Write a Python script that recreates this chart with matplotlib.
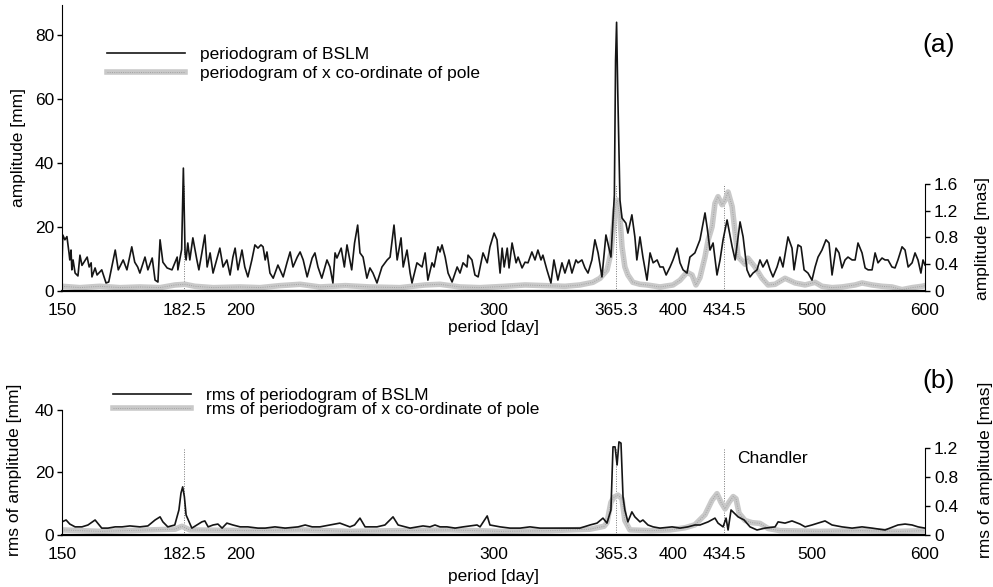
import matplotlib.pyplot as plt
from matplotlib.ticker import NullLocator
from matplotlib.legend_handler import HandlerTuple

plt.rcParams['font.family'] = ['Liberation Sans', 'DejaVu Sans']
plt.rcParams['font.size'] = 12.5

# panel (a): periodogram of BSLM [mm]
bslm_period = [
    150.0, 150.2, 150.7, 151.2, 151.7, 151.9, 152.2, 152.4, 152.7, 153.2,
    153.9, 154.4, 154.9, 156.2, 156.7, 157.2, 157.4, 158.2, 158.7, 159.9,
    161.0, 161.7, 163.4, 164.2, 165.5, 166.5, 167.8, 168.6, 169.4, 170.0,
    171.4, 172.2, 173.4, 174.2, 175.0, 175.6, 176.4, 177.6, 179.0, 180.5,
    180.7, 181.8, 182.3, 182.8, 183.1, 183.6, 184.2, 185.1, 186.3, 186.9,
    187.8, 188.7, 189.4, 190.3, 191.2, 193.3, 194.3, 195.5, 196.5, 197.4,
    198.1, 199.0, 200.3, 201.2, 202.2, 203.5, 204.5, 205.5, 206.5, 207.2,
    207.9, 208.5, 209.5, 210.6, 212.2, 214.0, 215.3, 216.4, 217.4, 218.9,
    219.9, 221.0, 222.4, 224.2, 225.2, 226.3, 227.7, 229.6, 230.7, 231.8,
    232.6, 233.3, 234.9, 236.1, 237.1, 238.9, 240.0, 241.2, 242.1, 243.3,
    244.8, 246.0, 247.2, 248.8, 250.8, 252.9, 254.1, 255.7, 257.0, 258.6,
    259.5, 261.1, 262.4, 263.2, 265.3, 267.5, 268.8, 270.0, 271.8, 272.7,
    274.4, 275.3, 276.2, 277.6, 278.9, 280.7, 283.0, 284.3, 285.7, 287.5,
    288.0, 289.8, 291.2, 292.7, 295.0, 297.0, 298.3, 300.3, 301.7, 303.2,
    304.2, 305.2, 306.7, 307.6, 309.1, 311.1, 312.1, 314.1, 315.6, 317.1,
    319.1, 320.7, 322.2, 323.8, 324.8, 326.9, 329.0, 330.6, 332.7, 334.9,
    336.5, 338.7, 340.3, 342.5, 343.6, 345.8, 347.5, 349.2, 351.4, 353.1,
    354.9, 357.1, 359.4, 360.5, 362.3, 364.3, 365.0, 365.6, 366.3, 367.6,
    368.8, 371.1, 372.3, 374.7, 376.5, 377.7, 379.6, 381.4, 383.9, 385.8,
    387.7, 390.2, 392.0, 394.0, 395.9, 398.4, 400.3, 403.0, 404.8, 406.8,
    409.4, 411.3, 414.6, 418.0, 421.4, 422.8, 424.8, 426.9, 429.6, 431.7,
    433.8, 436.6, 440.2, 442.3, 445.8, 448.0, 450.8, 453.0, 455.2, 458.1,
    460.3, 462.5, 465.5, 467.8, 470.0, 473.1, 475.3, 477.6, 481.5, 484.6,
    486.2, 489.3, 491.7, 494.1, 497.2, 500.4, 502.9, 505.3, 508.5, 511.8,
    514.3, 516.8, 520.1, 522.6, 525.1, 527.7, 530.2, 533.7, 536.3, 538.8,
    542.3, 545.0, 547.6, 551.1, 553.8, 556.4, 560.0, 562.7, 565.4, 569.0,
    571.8, 574.5, 578.3, 581.1, 584.0, 587.7, 590.5, 593.3, 596.1, 598.1,
    600.0,
]
bslm_amp = [
    7.5, 17.5, 16, 17, 12, 9.7, 12.8, 6.6, 9.7, 5.6,
    4.7, 11.2, 8, 10.6, 7.5, 8.8, 4.4, 7.2, 5, 6.6,
    2.5, 2.8, 12.8, 6.6, 9.7, 6.6, 13.8, 9, 7.5, 5.6,
    10.6, 6.6, 10.3, 3.4, 2.8, 16, 9, 7.2, 6.6, 10.6,
    6.6, 13, 38.4, 11.9, 9.7, 15, 9.7, 16.6, 9.7, 6.6,
    11.9, 17.5, 7.5, 11.9, 5.6, 13.4, 7.5, 9.7, 5, 10.6,
    13.4, 6.6, 12.8, 7.5, 4.4, 9.7, 14.4, 13.4, 14.4, 13.8,
    9.7, 12.2, 5.6, 4, 8.1, 4.4, 8.8, 12.2, 7.5, 10.6,
    12.2, 9.7, 4.4, 10.3, 11.9, 7.5, 4, 9.7, 7.5, 2.5,
    11.9, 10.3, 13.4, 7.5, 14.4, 6.6, 15, 20.6, 11.9, 10.6,
    4, 7.2, 5.6, 2.5, 7.5, 9.7, 10.6, 20.6, 9.7, 16.6,
    7.5, 12.8, 5.6, 2.5, 8.8, 7.5, 11.9, 3.4, 8.8, 7.5,
    13.8, 12.2, 14.4, 10.6, 5.6, 2.8, 7.5, 5.6, 8.8, 7.5,
    11.2, 9.7, 5, 4.4, 11.9, 8.8, 13.8, 18.1, 16, 5.6,
    13.4, 7.5, 13.4, 7.2, 15, 8.8, 10.6, 7.2, 9, 8.8,
    12.2, 9.7, 12.8, 9.7, 11.2, 6.6, 2.5, 9.7, 3.4, 8.8,
    5.6, 9.7, 5.6, 9.7, 8.8, 9.7, 7.2, 5.6, 9.7, 16,
    11.9, 4.4, 17.5, 15, 10.6, 30, 72, 84, 62, 28.4,
    22.8, 21.2, 18.1, 23.8, 16.9, 9.7, 16.9, 10.6, 3.4, 11.9,
    8.8, 9.7, 7.5, 7.5, 5, 7.5, 9.7, 13.4, 8.8, 6.6,
    5.6, 10.6, 11.9, 16, 24.4, 20, 12.8, 15, 5, 9.7,
    16, 22.2, 13.8, 9.7, 21.6, 16.9, 6.6, 4.4, 5.6, 6.6,
    9.7, 7.5, 9.7, 6.6, 4.4, 7.5, 10.6, 7.5, 16.9, 13.4,
    6.6, 14.4, 13.8, 6.6, 5.6, 3.4, 7.5, 10.6, 12.8, 16,
    15, 5, 13.4, 11.9, 7.2, 9.7, 10.6, 9.7, 9.7, 15,
    11.9, 7.2, 6.6, 6.6, 11.9, 8.8, 10.3, 9.7, 9.7, 7.5,
    7.2, 9.7, 13.8, 12.8, 7.5, 8.8, 11.9, 9.7, 5.6, 9.7,
    8.1,
]

# panel (a): periodogram of x co-ordinate of pole [mas]
pole_period = [
    150.0, 154.4, 159.4, 164.7, 170.0, 175.6, 179.9, 182.8, 185.7, 191.2,
    199.7, 206.2, 212.9, 219.9, 227.0, 236.5, 246.0, 258.2, 268.8, 275.3,
    284.3, 293.6, 305.7, 315.6, 326.0, 336.5, 344.7, 352.0, 356.0, 360.0,
    362.3, 363.5, 364.7, 365.9, 367.6, 368.8, 370.5, 372.3, 375.3, 379.6,
    383.9, 392.0, 400.3, 404.8, 409.4, 412.7, 415.3, 418.0, 421.4, 423.5,
    426.2, 428.2, 430.3, 433.1, 435.2, 437.3, 440.2, 442.3, 444.4, 447.2,
    449.4, 451.5, 456.6, 461.8, 466.3, 471.6, 479.2, 487.0, 494.9, 502.9,
    508.5, 516.8, 525.1, 536.3, 542.3, 551.1, 560.0, 569.0, 578.3, 587.7,
    597.2, 600.0,
]
pole_amp = [
    0.07, 0.05, 0.07, 0.05, 0.06, 0.05, 0.09, 0.10, 0.07, 0.05,
    0.06, 0.05, 0.08, 0.10, 0.06, 0.08, 0.06, 0.05, 0.09, 0.10,
    0.06, 0.05, 0.07, 0.09, 0.08, 0.07, 0.09, 0.13, 0.19, 0.31,
    0.57, 0.90, 1.21, 1.36, 1.10, 0.66, 0.36, 0.24, 0.13, 0.10,
    0.09, 0.06, 0.09, 0.16, 0.28, 0.24, 0.09, 0.20, 0.51, 0.76,
    0.96, 1.31, 1.41, 1.29, 1.36, 1.48, 1.26, 0.87, 0.51, 0.45,
    0.40, 0.49, 0.36, 0.19, 0.09, 0.10, 0.19, 0.12, 0.09, 0.13,
    0.07, 0.05, 0.06, 0.09, 0.12, 0.09, 0.07, 0.06, 0.02, 0.05,
    0.07, 0.08,
]

# panel (b): rms of periodogram of BSLM [mm]
rms_bslm_period = [
    150.0, 151.0, 151.9, 153.2, 154.9, 156.4, 158.2, 159.9, 161.5, 163.4,
    165.2, 167.3, 170.0, 172.2, 174.2, 175.6, 176.4, 177.8, 179.8, 181.0,
    181.6, 182.1, 182.6, 183.1, 184.0, 184.8, 186.3, 187.8, 188.7, 189.7,
    191.2, 192.7, 194.0, 195.5, 197.4, 199.7, 202.2, 205.5, 207.9, 211.2,
    214.7, 219.2, 221.7, 224.2, 227.0, 230.7, 234.4, 238.2, 240.0, 242.1,
    244.1, 248.8, 252.0, 255.3, 257.4, 260.3, 262.4, 267.9, 270.9, 273.1,
    275.3, 278.4, 282.1, 285.7, 288.9, 292.2, 293.6, 297.0, 298.3, 303.2,
    308.1, 313.1, 318.1, 323.3, 331.2, 336.5, 344.7, 350.3, 354.3, 357.7,
    360.0, 362.3, 363.5, 364.7, 365.9, 367.0, 368.2, 369.4, 370.5, 372.3,
    374.7, 376.5, 379.6, 381.4, 384.5, 387.7, 392.0, 399.7, 404.8, 410.0,
    414.6, 418.0, 423.5, 428.2, 430.3, 433.8, 435.9, 437.3, 439.4, 444.4,
    448.7, 453.0, 458.1, 464.0, 471.6, 473.9, 479.2, 484.6, 490.9, 494.9,
    500.4, 505.3, 511.0, 516.8, 525.1, 533.7, 542.3, 551.1, 562.7, 574.5,
    581.1, 587.7, 593.3, 600.0,
]
rms_bslm_amp = [
    4.2, 4.8, 3.5, 2.6, 2.6, 3.2, 4.8, 2.2, 2.2, 2.6,
    2.6, 2.9, 2.6, 2.9, 4.8, 5.8, 4.2, 2.6, 3.2, 8,
    13.4, 15.4, 12.2, 6.4, 4.2, 2.2, 3.2, 4.2, 4.5, 2.6,
    3.2, 3.5, 2.2, 3.8, 3.2, 2.6, 2.6, 2.2, 2.2, 2.6,
    2.2, 2.6, 3.2, 2.6, 2.6, 3.2, 3.8, 2.6, 3.2, 5.4,
    2.6, 2.6, 3.2, 5.8, 3.2, 2.6, 2.2, 2.9, 2.6, 3.2,
    2.6, 2.6, 2.2, 2.6, 2.9, 3.2, 2.6, 6.1, 3.2, 2.6,
    2.2, 2.2, 2.6, 2.2, 2.2, 2.2, 2.2, 3.2, 3.8, 5.4,
    3.8, 8, 28.2, 28.2, 22.4, 29.8, 29.4, 12.2, 8, 4.2,
    7.4, 5.8, 4.2, 4.8, 3.2, 2.6, 2.2, 2.6, 2.2, 2.6,
    3.2, 3.2, 4.2, 5.4, 3.8, 2.6, 5.4, 1.6, 8, 5.8,
    4.8, 2.6, 1.6, 2.2, 2.6, 4.2, 3.8, 4.5, 3.5, 2.6,
    3.2, 3.8, 4.5, 3.2, 2.6, 2.2, 2.6, 2.2, 1.6, 3.2,
    3.5, 3.2, 2.6, 2.2,
]

# panel (b): rms of periodogram of x co-ordinate of pole [mas]
rms_pole_period = [
    150.0, 159.4, 172.8, 179.9, 181.9, 184.2, 202.9, 219.9, 238.2, 258.2,
    279.8, 303.2, 328.5, 350.3, 358.3, 360.0, 362.3, 364.0, 366.4, 368.8,
    370.5, 373.5, 385.8, 398.4, 408.1, 414.6, 421.4, 426.2, 429.6, 432.4,
    435.2, 437.9, 440.9, 442.9, 445.1, 449.4, 454.5, 460.3, 466.3, 475.3,
    506.9, 540.5, 576.4, 600.0,
]
rms_pole_amp = [
    0.07, 0.05, 0.07, 0.08, 0.12, 0.07, 0.06, 0.07, 0.05, 0.06,
    0.07, 0.05, 0.06, 0.08, 0.12, 0.17, 0.45, 0.52, 0.55, 0.50,
    0.20, 0.07, 0.06, 0.07, 0.10, 0.14, 0.28, 0.48, 0.57, 0.45,
    0.36, 0.45, 0.53, 0.50, 0.30, 0.20, 0.17, 0.16, 0.09, 0.06,
    0.05, 0.06, 0.05, 0.06,
]

tick_periods = [150, 182.5, 200, 300, 365.3, 400, 434.5, 500, 600]
tick_labels = ['150', '182.5', '200', '300', '365.3', '400', '434.5', '500', '600']
marked_periods = [182.5, 365.3, 434.5]

black = '#151515'
light_grey = '#c9c9c9'
mid_grey = '#a2a2a2'


def draw_pole(ax, x, y):
    thick, = ax.plot(x, y, color=light_grey, lw=4.0, solid_joinstyle='round')
    grain, = ax.plot(x, y, color=mid_grey, lw=0.7, dashes=(1, 1.3))
    return (thick, grain)


def style_panel(ax, ax2, ylim_l, ylim_r, lticks, rticks, rlabels, left_top):
    ax.set_xscale('log')
    ax.set_xlim(150, 600)
    ax.set_xticks(tick_periods, tick_labels)
    ax.xaxis.set_minor_locator(NullLocator())
    ax.tick_params(axis='x', length=0, pad=8.5)
    ax.set_ylim(0, ylim_l)
    ax.set_yticks(lticks, [str(t) for t in lticks])
    ax.tick_params(axis='y', direction='out', length=3.5, width=1, pad=2)
    ax2.set_ylim(0, ylim_r)
    ax2.set_yticks(rticks, rlabels)
    ax2.tick_params(axis='y', direction='out', length=3.5, width=1, pad=3)
    for s in ['top', 'right']:
        ax.spines[s].set_visible(False)
    for s in ['top', 'left', 'bottom']:
        ax2.spines[s].set_visible(False)
    ax.spines['left'].set_bounds(0, left_top)
    ax2.spines['right'].set_bounds(0, rticks[-1])
    ax.spines['bottom'].set_linewidth(1.6)
    ax.set_zorder(ax2.get_zorder() + 1)
    ax.patch.set_visible(False)
    for p in marked_periods:
        ax2.plot([p, p], [0, rticks[-1]], color='#777777', lw=0.7, ls=(0, (1, 1.5)))


fig = plt.figure(figsize=(9.93, 5.87), dpi=100)

# ---- panel (a)
ax_a = fig.add_axes([0.0624, 0.5043, 0.8691, 0.4872])
ax_a2 = ax_a.twinx()
style_panel(ax_a, ax_a2, 89.4, 4.276, [0, 20, 40, 60, 80],
            [0, 0.4, 0.8, 1.2, 1.6], ['0', '0.4', '0.8', '1.2', '1.6'], 89.4)
pole_a = draw_pole(ax_a2, pole_period, pole_amp)
line_a, = ax_a.plot(bslm_period, bslm_amp, color=black, lw=1.2)
ax_a.legend([line_a, pole_a], ['periodogram of BSLM', 'periodogram of x co-ordinate of pole'],
            handler_map={tuple: HandlerTuple(ndivide=1)},
            loc='upper left', bbox_to_anchor=(0.052, 0.855), borderaxespad=0, borderpad=0,
            handlelength=4.5, handletextpad=0.85, labelspacing=0.22, frameon=False)
ax_a.set_ylabel('amplitude [mm]')
ax_a.yaxis.set_label_coords(-0.042, 0.5)
ax_a2.set_ylabel('amplitude [mas]')
ax_a2.yaxis.set_label_coords(1.058, 0.185)
ax_a.set_xlabel('period [day]')
ax_a.xaxis.set_label_coords(0.5, -0.102)
ax_a.text(1.016, 0.86, '(a)', transform=ax_a.transAxes, ha='center', va='center', fontsize=19)

# ---- panel (b)
ax_b = fig.add_axes([0.0624, 0.0886, 0.8691, 0.2726])
ax_b2 = ax_b.twinx()
style_panel(ax_b, ax_b2, 51.2, 2.207, [0, 20, 40],
            [0, 0.4, 0.8, 1.2], ['0', '0.4', '0.8', '1.2'], 40)
pole_b = draw_pole(ax_b2, rms_pole_period, rms_pole_amp)
line_b, = ax_b.plot(rms_bslm_period, rms_bslm_amp, color=black, lw=1.2)
ax_b.legend([line_b, pole_b], ['rms of periodogram of BSLM', 'rms of periodogram of x co-ordinate of pole'],
            handler_map={tuple: HandlerTuple(ndivide=1)},
            loc='upper left', bbox_to_anchor=(0.059, 0.92), borderaxespad=0, borderpad=0,
            handlelength=4.5, handletextpad=0.85, labelspacing=-0.05, frameon=False)
ax_b2.text(444, 1.06, 'Chandler', ha='left', va='center')
ax_b.set_ylabel('rms of amplitude [mm]')
ax_b.yaxis.set_label_coords(-0.046, 0.406)
ax_b2.set_ylabel('rms of amplitude [mas]')
ax_b2.yaxis.set_label_coords(1.061, 0.406)
ax_b.set_xlabel('period [day]')
ax_b.xaxis.set_label_coords(0.5, -0.215)
ax_b.text(1.016, 0.9625, '(b)', transform=ax_b.transAxes, ha='center', va='center', fontsize=19)

fig.savefig('out.png', dpi=100)
